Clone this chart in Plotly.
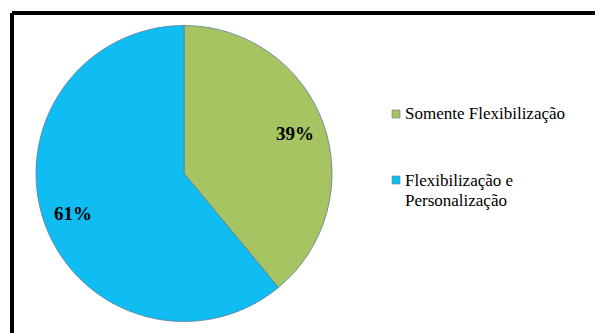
import math
import plotly.graph_objects as go

labels = ["Somente Flexibilização", "Flexibilização e Personalização"]
legend_lines = [["Somente Flexibilização"], ["Flexibilização e", "Personalização"]]
values = [39, 61]
colors = ["#A6C562", "#0FBDF3"]

W, H = 595, 333
cx, cy, r = 184, 173.5, 148
SERIF = "Liberation Serif, Times New Roman, Times, serif"

fig = go.Figure()
fig.add_trace(go.Pie(
    labels=labels, values=values, sort=False, direction="clockwise", rotation=0,
    marker=dict(colors=colors, line=dict(color="#5a7a9a", width=0.8)),
    textinfo="none", hoverinfo="label+percent",
    showlegend=False,
    domain=dict(x=[(cx - r) / W, (cx + r) / W], y=[(H - cy - r) / H, (H - cy + r) / H]),
))

shapes = [
    dict(type="line", xref="paper", yref="paper", x0=12 / W, x1=1.01, y0=(H - 13) / H, y1=(H - 13) / H,
         line=dict(color="black", width=4)),
    dict(type="line", xref="paper", yref="paper", x0=12 / W, x1=12 / W, y0=(H - 13) / H, y1=-0.01,
         line=dict(color="black", width=4)),
]
annotations = []

# percent labels placed along each slice's mid-angle
total = sum(values)
acc = 0
for v in values:
    mid = (acc + v / 2) / total * 2 * math.pi
    acc += v
    px = cx + 0.8 * r * math.sin(mid)
    py = cy - 0.8 * r * math.cos(mid)
    annotations.append(dict(text=f"<b>{round(100 * v / total)}%</b>", xref="paper", yref="paper",
                            x=px / W, y=(H - py) / H, xanchor="center", yanchor="middle", showarrow=False,
                            font=dict(family=SERIF, size=19, color="#000000")))

leg_y = [114, 180]
for i, lines in enumerate(legend_lines):
    y = leg_y[i]
    shapes.append(dict(type="rect", xref="paper", yref="paper",
                       x0=392 / W, x1=400 / W, y0=(H - y - 4) / H, y1=(H - y + 4) / H,
                       fillcolor=colors[i], line=dict(color="#6a7f8f", width=0.6)))
    for j, t in enumerate(lines):
        annotations.append(dict(text=t, xref="paper", yref="paper", x=403 / W, y=(H - y - j * 20) / H,
                                xanchor="left", yanchor="middle", showarrow=False,
                                font=dict(family=SERIF, size=17, color="#000000")))

fig.update_layout(width=W, height=H, margin=dict(l=0, r=0, t=0, b=0),
                  paper_bgcolor="white", plot_bgcolor="white",
                  font=dict(family=SERIF),
                  shapes=shapes, annotations=annotations)
fig.write_html("out.html")
